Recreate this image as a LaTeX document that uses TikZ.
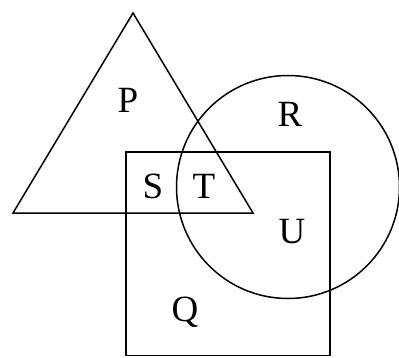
\documentclass[tikz,border=0pt]{standalone}
\usepackage{fontspec}
\setmainfont{Liberation Serif}
\begin{document}
\begin{tikzpicture}[x=1pt,y=-1pt,
  shape line/.style={line width=1.5pt, black},
  lbl/.style={font=\fontsize{37}{37}\selectfont, inner sep=0pt}]
\useasboundingbox (0,0) rectangle (399,357);
\coordinate (apex) at (133,13);
\coordinate (bl) at (13,213);
\coordinate (br) at (253,213);
\draw[shape line, line join=miter] (apex) -- (bl) -- (br) -- cycle;
\draw[shape line] (288,187) circle[radius=111.5];
\draw[shape line] (126,152) rectangle (330,355.5);
\node[lbl] (P) at (128,100) {P};
\node[lbl] (R) at (290,114) {R};
\node[lbl] (S) at (153,186) {S};
\node[lbl] (T) at (204,186) {T};
\node[lbl] (U) at (292,232) {U};
\node[lbl] (Q) at (185,312) {Q};
\end{tikzpicture}
\end{document}
